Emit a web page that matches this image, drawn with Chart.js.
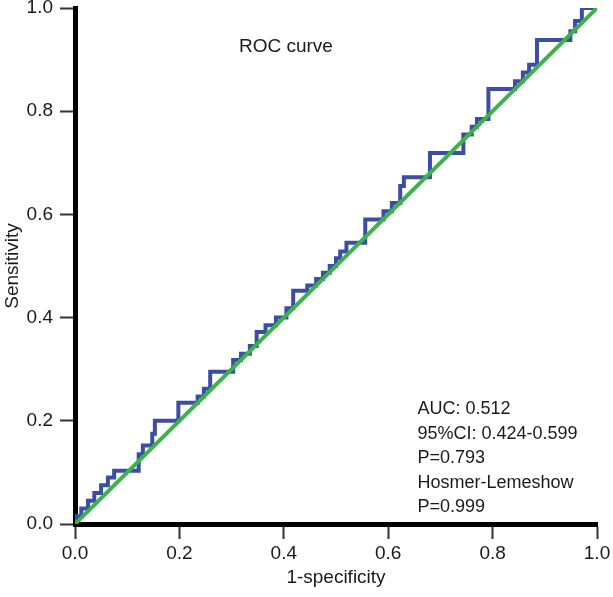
<!DOCTYPE html>
<html>
<head>
<meta charset="utf-8">
<script src="https://cdn.jsdelivr.net/npm/chart.js@4.4.0/dist/chart.umd.min.js"></script>
<style>
  html, body { margin: 0; padding: 0; background: #ffffff; }
  #wrap { width: 613px; height: 597px; position: relative; }
</style>
</head>
<body>
<div id="wrap"><canvas id="c" width="613" height="597"></canvas></div>
<script>
// ROC step curve (1-specificity, sensitivity)
const fpr = [0, 0, 0.012, 0.012, 0.025, 0.025, 0.037, 0.037, 0.05, 0.05, 0.063, 0.063, 0.075, 0.075,
  0.122, 0.122, 0.13, 0.13, 0.148, 0.148, 0.153, 0.153, 0.198, 0.198, 0.235, 0.235, 0.247, 0.247,
  0.259, 0.259, 0.303, 0.303, 0.318, 0.318, 0.335, 0.335, 0.348, 0.348, 0.365, 0.365, 0.385, 0.385,
  0.405, 0.405, 0.418, 0.418, 0.445, 0.445, 0.462, 0.462, 0.475, 0.475, 0.488, 0.488, 0.5, 0.5,
  0.508, 0.508, 0.52, 0.52, 0.556, 0.556, 0.591, 0.591, 0.607, 0.607, 0.623, 0.623, 0.63, 0.63,
  0.68, 0.68, 0.744, 0.744, 0.76, 0.76, 0.77, 0.77, 0.792, 0.792, 0.843, 0.843, 0.858, 0.858,
  0.87, 0.87, 0.885, 0.885, 0.949, 0.949, 0.958, 0.958, 0.971, 0.971, 1.0];
const tpr = [0, 0.015, 0.015, 0.03, 0.03, 0.045, 0.045, 0.06, 0.06, 0.075, 0.075, 0.09, 0.09, 0.103,
  0.103, 0.135, 0.135, 0.152, 0.152, 0.175, 0.175, 0.2, 0.2, 0.235, 0.235, 0.247, 0.247, 0.262,
  0.262, 0.295, 0.295, 0.318, 0.318, 0.33, 0.33, 0.345, 0.345, 0.372, 0.372, 0.385, 0.385, 0.4,
  0.4, 0.418, 0.418, 0.452, 0.452, 0.462, 0.462, 0.475, 0.475, 0.487, 0.487, 0.5, 0.5, 0.515,
  0.515, 0.528, 0.528, 0.545, 0.545, 0.59, 0.59, 0.606, 0.606, 0.622, 0.622, 0.655, 0.655, 0.672,
  0.672, 0.719, 0.719, 0.755, 0.755, 0.77, 0.77, 0.785, 0.785, 0.843, 0.843, 0.858, 0.858, 0.875,
  0.875, 0.89, 0.89, 0.938, 0.938, 0.955, 0.955, 0.975, 0.975, 1.0, 1.0];
// Reference (chance) line
const refX = [0, 1];
const refY = [0, 1];
// Tick values
const tickValues = [0, 0.2, 0.4, 0.6, 0.8, 1.0];
// Texts
const plotTitle = "ROC curve";
const statsLines = ["AUC: 0.512", "95%CI: 0.424-0.599", "P=0.793", "Hosmer-Lemeshow", "P=0.999"];
const xTitle = "1-specificity";
const yTitle = "Sensitivity";

const FONT = "'Liberation Sans', Arial, Helvetica, sans-serif";
const FS = 19;

const rocPoints = fpr.map((x, i) => ({ x: x, y: tpr[i] }));
const refPoints = refX.map((x, i) => ({ x: x, y: refY[i] }));

const textPlugin = {
  id: 'texts',
  afterDatasetsDraw(chart) {
    const ctx = chart.ctx;
    const xs = chart.scales.x, ys = chart.scales.y;
    ctx.save();
    ctx.fillStyle = '#1a1a1a';
    ctx.textAlign = 'left';
    ctx.textBaseline = 'middle';
    ctx.font = FS + 'px ' + FONT;
    ctx.fillText(plotTitle, xs.getPixelForValue(0.314), ys.getPixelForValue(0.925));
    ctx.font = '18px ' + FONT;
    const x0 = xs.getPixelForValue(0.656);
    const y0 = ys.getPixelForValue(0.222);
    statsLines.forEach((t, i) => ctx.fillText(t, x0, y0 + i * 24.5));
    ctx.restore();
  }
};

new Chart(document.getElementById('c'), {
  type: 'scatter',
  data: {
    datasets: [
      { label: 'Reference', data: refPoints, showLine: true, borderColor: '#3db24b', borderWidth: 4,
        pointRadius: 0, fill: false, order: 0 },
      { label: 'ROC', data: rocPoints, showLine: true, borderColor: '#3a4ea3', borderWidth: 4,
        pointRadius: 0, fill: false, order: 1, borderJoinStyle: 'miter' }
    ]
  },
  options: {
    responsive: false,
    animation: false,
    devicePixelRatio: 1,
    layout: { padding: { top: 8, right: 16, left: 0, bottom: 0 } },
    plugins: { legend: { display: false }, tooltip: { enabled: false } },
    scales: {
      x: {
        type: 'linear', min: 0, max: 1,
        afterFit(s) { s.height = 73; s.paddingLeft = 0; s.paddingRight = 0; },
        afterBuildTicks(s) { s.ticks = tickValues.map(v => ({ value: v })); },
        grid: { drawOnChartArea: false, drawTicks: true, tickLength: 15, tickColor: '#333333', tickWidth: 2 },
        border: { display: true, color: '#000000', width: 5 },
        ticks: { padding: 3, color: '#1a1a1a', font: { family: FONT, size: FS }, callback: v => v.toFixed(1), maxRotation: 0 },
        title: { display: true, text: xTitle, color: '#1a1a1a', font: { family: FONT, size: FS }, padding: { top: 0, bottom: 8 } }
      },
      y: {
        type: 'linear', min: 0, max: 1,
        afterFit(s) { s.width = 75; s.paddingTop = 0; s.paddingBottom = 0; },
        afterBuildTicks(s) { s.ticks = tickValues.map(v => ({ value: v })); },
        grid: { drawOnChartArea: false, drawTicks: true, tickLength: 15, tickColor: '#333333', tickWidth: 2 },
        border: { display: true, color: '#000000', width: 5 },
        ticks: { padding: 7, color: '#1a1a1a', font: { family: FONT, size: FS }, callback: v => v.toFixed(1) },
        title: { display: true, text: yTitle, color: '#1a1a1a', font: { family: FONT, size: FS }, padding: { top: 1, bottom: 0 } }
      }
    }
  },
  plugins: [textPlugin]
});
</script>
</body>
</html>
